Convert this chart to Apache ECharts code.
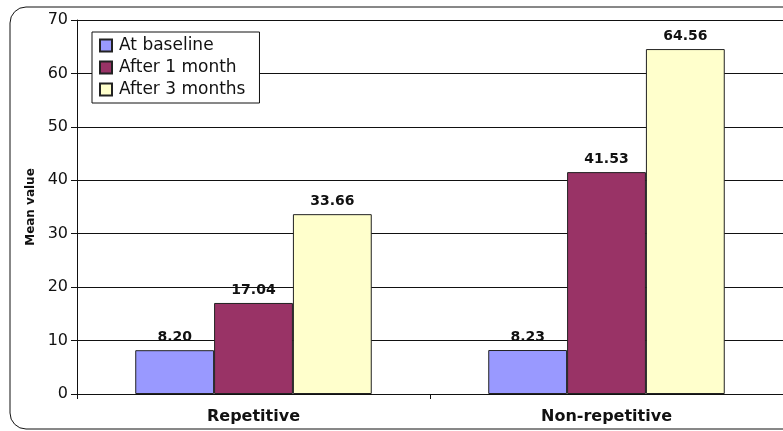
<!DOCTYPE html>
<html>
<head>
<meta charset="utf-8">
<script src="https://cdn.jsdelivr.net/npm/echarts@6/dist/echarts.min.js"></script>
<style>
  html, body { margin: 0; padding: 0; background: #fff; }
  #chart { width: 783px; height: 431px; }
</style>
</head>
<body>
<div id="chart"></div>
<script>
const categories = ['Repetitive', 'Non-repetitive']
const seriesNames = ['At baseline', 'After 1 month', 'After 3 months']
const baseline = [8.20, 8.23]
const oneMonth = [17.04, 41.53]
const threeMonths = [33.66, 64.56]
const seriesColors = ['#9999ff', '#993366', '#ffffcc']

const chart = echarts.init(document.getElementById('chart'))

// the source looks horizontally stretched, DejaVu is wider than Arial
const font = 'DejaVu Sans, Arial, sans-serif'

function makeSeries(name, data, color) {
  return {
    name: name,
    type: 'bar',
    data: data,
    barGap: '0%',
    barCategoryGap: '33%',
    itemStyle: { color: color, borderColor: '#222', borderWidth: 1 },
    label: {
      show: true,
      position: 'top',
      distance: 6,
      fontFamily: font,
      fontWeight: 'bold',
      fontSize: 14,
      color: '#111',
      formatter: p => p.value.toFixed(2)
    }
  }
}

const option = {
  animation: false,
  textStyle: { fontFamily: font },
  graphic: [{
    type: 'rect',
    shape: { x: 10, y: 7, width: 800, height: 422, r: 16 },
    style: { fill: 'none', stroke: '#111', lineWidth: 1 },
    z: -1
  }],
  legend: {
    orient: 'vertical',
    left: 92,
    top: 32,
    itemWidth: 12,
    itemHeight: 12,
    itemGap: 5,
    padding: [5, 14, 5, 7],
    borderColor: '#111',
    borderWidth: 1,
    backgroundColor: '#fff',
    icon: 'rect',
    data: seriesNames,
    textStyle: { fontFamily: font, fontSize: 17, color: '#111', padding: [0, 0, 0, 2] }
  },
  grid: { left: 77, right: -4, top: 20, bottom: 37 },
  xAxis: {
    type: 'category',
    data: categories,
    axisLine: { lineStyle: { color: '#111', width: 1 } },
    axisTick: { show: true, length: 5, lineStyle: { color: '#111' } },
    axisLabel: { fontFamily: font, fontWeight: 'bold', fontSize: 16, color: '#111', margin: 15 }
  },
  yAxis: {
    type: 'value',
    min: 0,
    max: 70,
    interval: 10,
    name: 'Mean value',
    nameLocation: 'middle',
    nameGap: 40,
    nameRotate: 90,
    nameTextStyle: { fontFamily: font, fontWeight: 'bold', fontSize: 12, color: '#111' },
    axisLine: { show: true, lineStyle: { color: '#111', width: 1 } },
    axisTick: { show: true, length: 6, lineStyle: { color: '#111' } },
    axisLabel: { fontFamily: font, fontSize: 16, color: '#111', margin: 9 },
    splitLine: { lineStyle: { color: '#111', width: 1 } }
  },
  series: [
    makeSeries(seriesNames[0], baseline, seriesColors[0]),
    makeSeries(seriesNames[1], oneMonth, seriesColors[1]),
    makeSeries(seriesNames[2], threeMonths, seriesColors[2])
  ]
}

chart.setOption(option)
</script>
</body>
</html>
